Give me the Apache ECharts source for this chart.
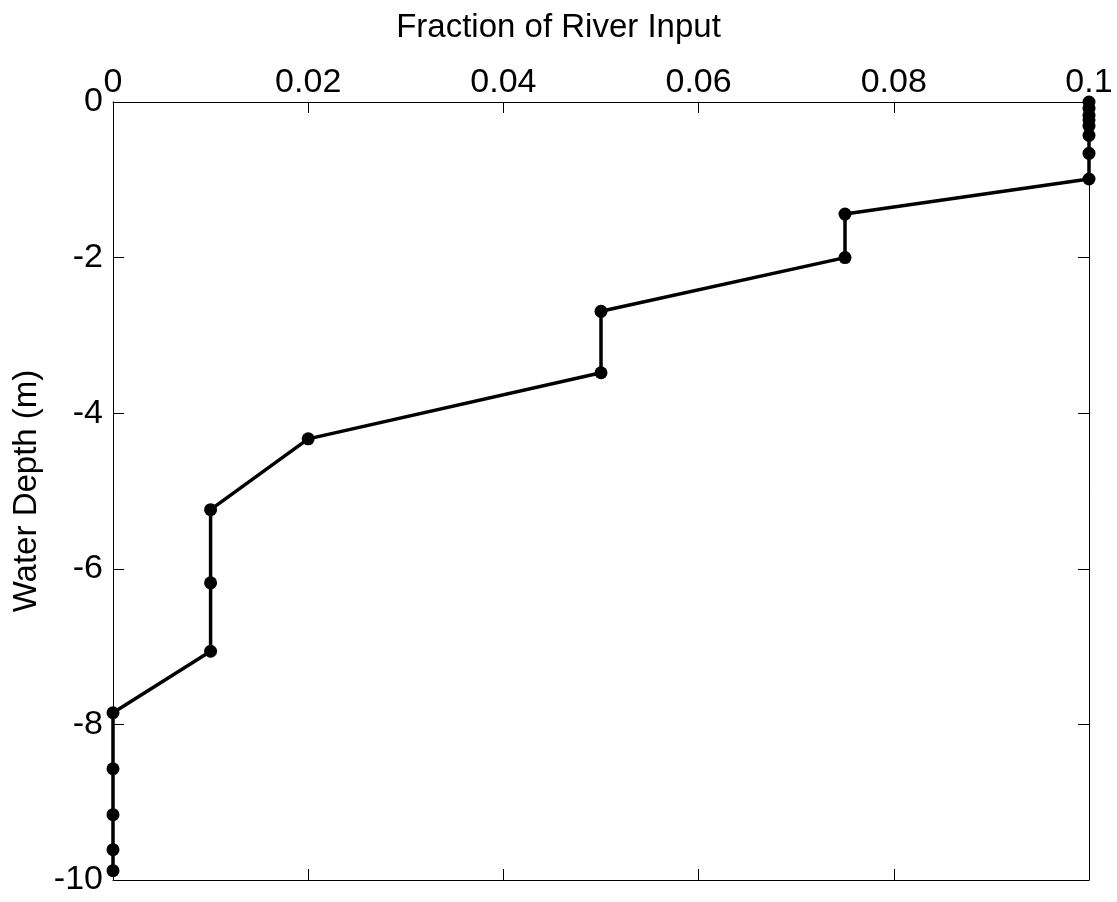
<!DOCTYPE html>
<html>
<head>
<meta charset="utf-8">
<script src="https://cdn.jsdelivr.net/npm/echarts@6/dist/echarts.min.js"></script>
<style>html,body{margin:0;padding:0;background:#fff;}#c{width:1117px;height:902px;}</style>
</head>
<body>
<div id="c"></div>
<script>
// Data
const fraction = [0.1, 0.1, 0.1, 0.1, 0.1, 0.1, 0.1, 0.1, 0.075, 0.075, 0.05, 0.05, 0.02, 0.01, 0.01, 0.01, 0, 0, 0, 0, 0];
const depth = [0, -0.08, -0.17, -0.23, -0.31, -0.43, -0.66, -0.99, -1.44, -2.0, -2.69, -3.48, -4.33, -5.24, -6.18, -7.06, -7.85, -8.57, -9.16, -9.61, -9.88];
const xTitle = 'Fraction of River Input';
const yTitle = 'Water Depth (m)';

const FONT = 'Liberation Sans, Arial, Helvetica, sans-serif';
const fmt = v => String(+(+v).toFixed(4));
const chart = echarts.init(document.getElementById('c'), null, {renderer: 'canvas'});
function axisCommon() {
  return {
    axisLine: {show: true, onZero: false, lineStyle: {color: '#000', width: 1}},
    axisTick: {show: true, inside: true, length: 11, lineStyle: {color: '#000', width: 1}},
    splitLine: {show: false},
    minorTick: {show: false}
  };
}
chart.setOption({
  animation: false,
  backgroundColor: '#fff',
  title: {
    text: xTitle, left: 'center', top: 6,
    textStyle: {fontFamily: FONT, fontSize: 33, fontWeight: 'normal', color: '#000'}
  },
  grid: {left: 113, top: 102, right: 28, bottom: 22, containLabel: false},
  xAxis: [
    Object.assign(axisCommon(), {
      type: 'value', position: 'top', min: 0, max: 0.1, interval: 0.02,
      axisLabel: {fontFamily: FONT, fontSize: 34, color: '#000', margin: 2, formatter: fmt}
    }),
    Object.assign(axisCommon(), {
      type: 'value', position: 'bottom', min: 0, max: 0.1, interval: 0.02,
      axisLabel: {show: false}
    })
  ],
  yAxis: [
    Object.assign(axisCommon(), {
      type: 'value', position: 'left', min: -10, max: 0, interval: 2,
      name: yTitle, nameLocation: 'middle', nameGap: 66,
      nameTextStyle: {fontFamily: FONT, fontSize: 33, color: '#000'},
      axisLabel: {fontFamily: FONT, fontSize: 34, color: '#000', margin: 10, formatter: fmt}
    }),
    Object.assign(axisCommon(), {
      type: 'value', position: 'right', min: -10, max: 0, interval: 2,
      axisLabel: {show: false}
    })
  ],
  series: [{
    type: 'line',
    xAxisIndex: 0, yAxisIndex: 0,
    data: fraction.map((f, i) => [f, depth[i]]),
    clip: false,
    symbol: 'circle', symbolSize: 13,
    lineStyle: {color: '#000', width: 3.5},
    itemStyle: {color: '#000'},
    z: 5
  }]
});
</script>
</body>
</html>
